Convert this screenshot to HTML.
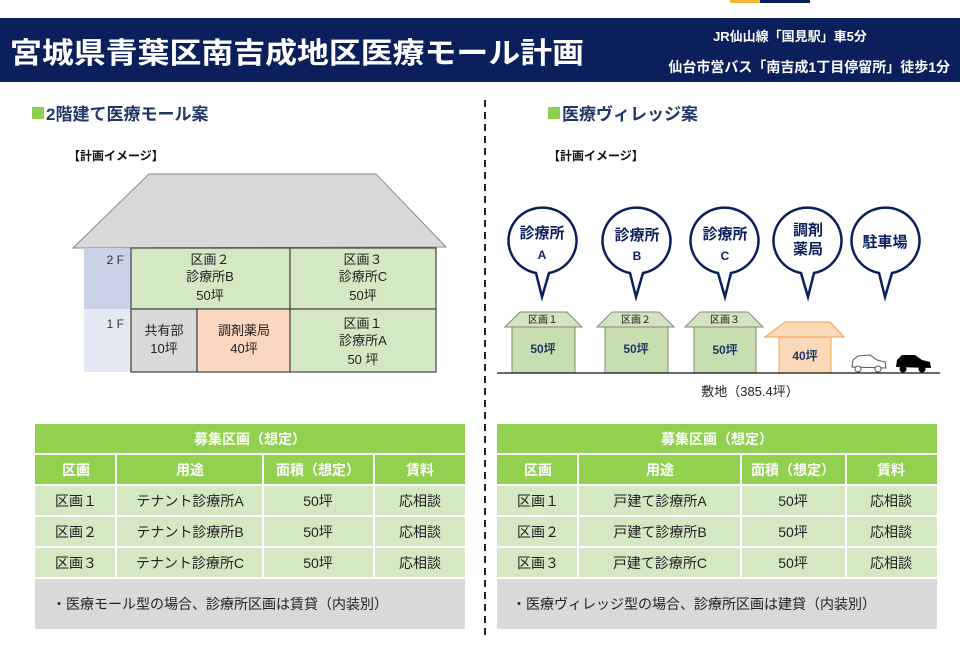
<!DOCTYPE html>
<html><head><meta charset="utf-8"><style>
body{margin:0;width:960px;height:640px;overflow:hidden;background:#fff;font-family:"Liberation Sans","Noto Sans CJK JP",sans-serif}
svg text{font-family:"Liberation Sans","Noto Sans CJK JP",sans-serif}
</style></head><body>
<svg width="960" height="640" xmlns="http://www.w3.org/2000/svg">
<rect x="730" y="0" width="30" height="3" fill="#f4b63f"/><rect x="760" y="0" width="50" height="3" fill="#0a1f5c"/>
<rect x="0" y="18" width="960" height="64" fill="#0a1f5c"/>
<text x="10" y="63" font-size="29" font-weight="bold" fill="#fff" textLength="574" lengthAdjust="spacingAndGlyphs">宮城県青葉区南吉成地区医療モール計画</text>
<text x="790" y="41" font-size="13" font-weight="bold" fill="#fff" text-anchor="middle">JR仙山線「国見駅」車5分</text>
<text x="950" y="72" font-size="14" font-weight="bold" fill="#fff" text-anchor="end">仙台市営バス「南吉成1丁目停留所」徒歩1分</text>
<line x1="485" y1="100" x2="485" y2="640" stroke="#222" stroke-width="2" stroke-dasharray="7,5"/>
<rect x="32" y="107" width="12" height="12" fill="#8fcf4f"/>
<text x="46" y="120" font-size="17" font-weight="bold" fill="#1f3864">2階建て医療モール案</text>
<rect x="548" y="107" width="12" height="12" fill="#8fcf4f"/>
<text x="562" y="120" font-size="17" font-weight="bold" fill="#1f3864">医療ヴィレッジ案</text>
<text x="68" y="160" font-size="12" font-weight="bold" fill="#111">【計画イメージ】</text>
<text x="548" y="160" font-size="12" font-weight="bold" fill="#111">【計画イメージ】</text>
<!-- left house -->
<polygon points="149,174 376,174 446,247 73,248" fill="#d9d9d9" stroke="#888"/>
<rect x="84" y="248" width="47" height="61" fill="#c9d2e6"/>
<rect x="84" y="309" width="47" height="63" fill="#e4e9f4"/>
<text x="124" y="264" font-size="12" fill="#333" text-anchor="end">2 F</text>
<text x="124" y="328" font-size="12" fill="#333" text-anchor="end">1 F</text>
<g stroke="#444" stroke-width="1.2">
<rect x="131" y="248" width="159" height="61" fill="#d5e8c4"/>
<rect x="290" y="248" width="146" height="61" fill="#d5e8c4"/>
<rect x="131" y="309" width="66" height="63" fill="#d9d9d9"/>
<rect x="197" y="309" width="93" height="63" fill="#fbd6c0"/>
<rect x="290" y="309" width="146" height="63" fill="#d5e8c4"/>
</g>
<g font-size="13" fill="#222" text-anchor="middle">
<text x="210" y="264">区画２</text><text x="210" y="281">診療所B</text><text x="210" y="300">50坪</text>
<text x="363" y="264">区画３</text><text x="363" y="281">診療所C</text><text x="363" y="300">50坪</text>
<text x="164" y="335">共有部</text><text x="164" y="353">10坪</text>
<text x="244" y="335">調剤薬局</text><text x="244" y="353">40坪</text>
<text x="363" y="328">区画１</text><text x="363" y="345">診療所A</text><text x="363" y="364">50 坪</text>
</g>
<!-- right balloons -->
<g fill="#fff" stroke="#0a1f5c" stroke-width="2.5">
<path d="M536,273 A34,33 0 1 1 549,273 L542,297 Z"/>
<path d="M630,273 A34,33 0 1 1 643,273 L636,297 Z"/>
<path d="M718,273 A34,33 0 1 1 731,273 L725,297 Z"/>
<path d="M801,273 A34,33 0 1 1 814,273 L808,297 Z"/>
<path d="M879,273 A34,33 0 1 1 892,273 L885,297 Z"/>
</g>
<g font-size="15" font-weight="bold" fill="#0a1f5c" text-anchor="middle">
<text x="542" y="238">診療所</text><text x="542" y="259" font-size="12">A</text>
<text x="637" y="240">診療所</text><text x="637" y="260" font-size="12">B</text>
<text x="725" y="239">診療所</text><text x="725" y="260" font-size="12">C</text>
<text x="808" y="235">調剤</text><text x="808" y="254">薬局</text>
<text x="885" y="247">駐車場</text>
</g>
<g stroke="#7f8f6a">
<polygon points="520,312 567,312 582,327 505,327" fill="#d5e3c4"/><rect x="512" y="327" width="63" height="46" fill="#c8ddb0"/>
<polygon points="612,312 659,312 674,327 597,327" fill="#d5e3c4"/><rect x="605" y="327" width="63" height="46" fill="#c8ddb0"/>
<polygon points="700,312 748,312 763,327 685,327" fill="#d5e3c4"/><rect x="694" y="327" width="62" height="46" fill="#c8ddb0"/>
</g>
<polygon points="785,322 830,322 844,337 765,337" fill="#fcd9b8" stroke="#f0a050"/><rect x="779" y="337" width="52" height="36" fill="#fcd9b8" stroke="#f0a050"/>
<g font-size="10" fill="#222" text-anchor="middle"><text x="543" y="323">区画１</text><text x="636" y="323">区画２</text><text x="725" y="323">区画３</text></g>
<g font-size="12" font-weight="bold" fill="#1f3864" text-anchor="middle"><text x="543" y="353">50坪</text><text x="636" y="353">50坪</text><text x="725" y="354">50坪</text><text x="805" y="360">40坪</text></g>
<g>
<path d="M852,367 L853,360 L858,356 L870,355 L877,360 L885,362 L886,368 Z" fill="#fff" stroke="#555"/>
<circle cx="858" cy="369" r="3" fill="#fff" stroke="#555"/><circle cx="878" cy="369" r="3" fill="#fff" stroke="#555"/>
<path d="M896,367 L897,360 L902,355 L915,355 L922,360 L930,362 L931,368 Z" fill="#000"/>
<circle cx="903" cy="369" r="3.5" fill="#000"/><circle cx="922" cy="369" r="3.5" fill="#000"/>
</g>
<line x1="497" y1="373" x2="940" y2="373" stroke="#111" stroke-width="1.2"/>
<text x="750" y="396" font-size="13" fill="#222" text-anchor="middle">敷地（385.4坪）</text>
<!-- tables -->
<g>
<rect x="35" y="424" width="430" height="30" fill="#92d050"/>
<rect x="35" y="454" width="430" height="31" fill="#92d050"/>
<rect x="35" y="485" width="430" height="93" fill="#d5e8c4"/>
<rect x="35" y="578" width="430" height="51" fill="#d9d9d9"/>
<g stroke="#fff" stroke-width="2"><line x1="35" y1="454" x2="465" y2="454"/><line x1="35" y1="485" x2="465" y2="485"/><line x1="35" y1="516" x2="465" y2="516"/><line x1="35" y1="547" x2="465" y2="547"/><line x1="35" y1="578" x2="465" y2="578"/>
<line x1="116" y1="454" x2="116" y2="578"/><line x1="263" y1="454" x2="263" y2="578"/><line x1="374" y1="454" x2="374" y2="578"/></g>
<g font-size="14" text-anchor="middle" fill="#fff" font-weight="bold"><text x="250" y="444">募集区画（想定）</text>
<text x="76" y="475">区画</text><text x="190" y="475">用途</text><text x="318" y="475">面積（想定）</text><text x="420" y="475">賃料</text></g>
<g font-size="14" text-anchor="middle" fill="#222">
<text x="76" y="506">区画１</text><text x="190" y="506">テナント診療所A</text><text x="318" y="506">50坪</text><text x="420" y="506">応相談</text>
<text x="76" y="537">区画２</text><text x="190" y="537">テナント診療所B</text><text x="318" y="537">50坪</text><text x="420" y="537">応相談</text>
<text x="76" y="568">区画３</text><text x="190" y="568">テナント診療所C</text><text x="318" y="568">50坪</text><text x="420" y="568">応相談</text>
</g>
<text x="52" y="609" font-size="14" fill="#222">・医療モール型の場合、診療所区画は賃貸（内装別）</text>
</g>
<g>
<rect x="497" y="424" width="440" height="30" fill="#92d050"/>
<rect x="497" y="454" width="440" height="31" fill="#92d050"/>
<rect x="497" y="485" width="440" height="93" fill="#d5e8c4"/>
<rect x="497" y="578" width="440" height="51" fill="#d9d9d9"/>
<g stroke="#fff" stroke-width="2"><line x1="497" y1="454" x2="937" y2="454"/><line x1="497" y1="485" x2="937" y2="485"/><line x1="497" y1="516" x2="937" y2="516"/><line x1="497" y1="547" x2="937" y2="547"/><line x1="497" y1="578" x2="937" y2="578"/>
<line x1="578" y1="454" x2="578" y2="578"/><line x1="741" y1="454" x2="741" y2="578"/><line x1="846" y1="454" x2="846" y2="578"/></g>
<g font-size="14" text-anchor="middle" fill="#fff" font-weight="bold"><text x="717" y="444">募集区画（想定）</text>
<text x="538" y="475">区画</text><text x="660" y="475">用途</text><text x="793" y="475">面積（想定）</text><text x="891" y="475">賃料</text></g>
<g font-size="14" text-anchor="middle" fill="#222">
<text x="538" y="506">区画１</text><text x="660" y="506">戸建て診療所A</text><text x="793" y="506">50坪</text><text x="891" y="506">応相談</text>
<text x="538" y="537">区画２</text><text x="660" y="537">戸建て診療所B</text><text x="793" y="537">50坪</text><text x="891" y="537">応相談</text>
<text x="538" y="568">区画３</text><text x="660" y="568">戸建て診療所C</text><text x="793" y="568">50坪</text><text x="891" y="568">応相談</text>
</g>
<text x="512" y="609" font-size="14" fill="#222">・医療ヴィレッジ型の場合、診療所区画は建貸（内装別）</text>
</g>
</svg>
</body></html>
